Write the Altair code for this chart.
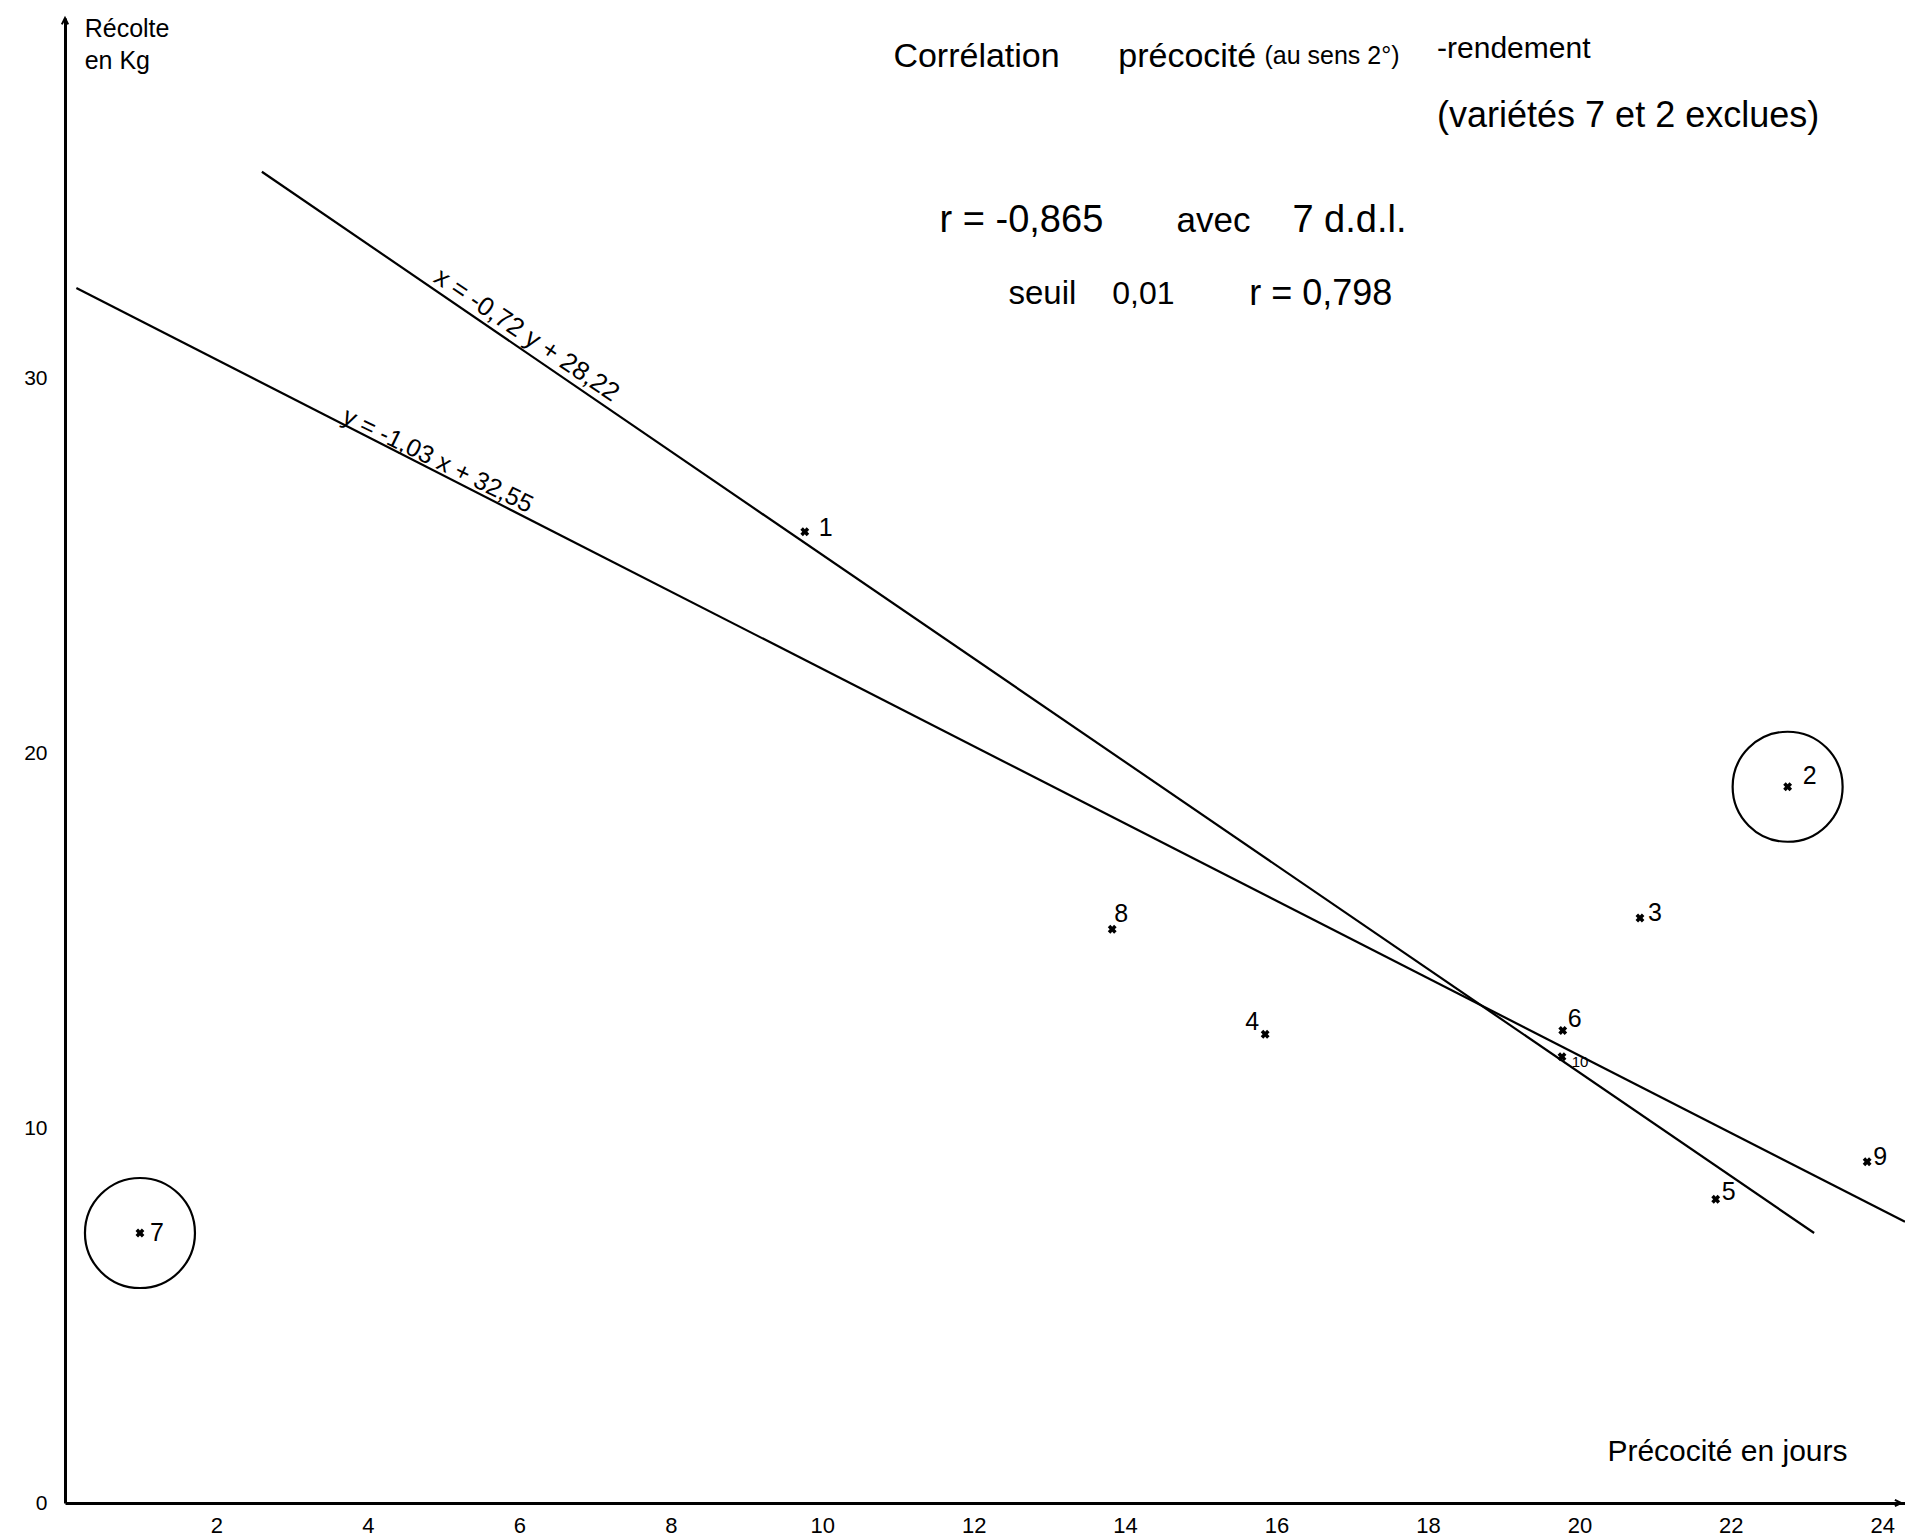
import altair as alt
import pandas as pd

FONT = "Liberation Sans"

# ---- data ----
labels = ["1", "2", "3", "4", "5", "6", "7", "8", "9", "10"]
precocite = [9.77, 22.75, 20.8, 15.85, 21.8, 19.78, 0.99, 13.83, 23.8, 19.77]
recolte = [25.9, 19.1, 15.6, 12.5, 8.1, 12.6, 7.2, 15.3, 9.1, 11.9]
excluded = ["7", "2"]

# regression lines (end points)
reg_names = ["y on x", "y on x", "x on y", "x on y"]
reg_x = [0.15, 24.3, 2.6, 23.1]
reg_y = [32.4, 7.5, 35.5, 7.2]

x_ticks = [2, 4, 6, 8, 10, 12, 14, 16, 18, 20, 22, 24]
y_ticks = [0, 10, 20, 30]
X_MAX = 24.3
Y_MAX = 39.6

ann_text = ["Récolte", "en Kg", "Corrélation", "précocité", "(au sens 2°)", "-rendement",
            "(variétés 7 et 2 exclues)", "r = -0,865", "avec", "7 d.d.l.",
            "seuil", "0,01", "r = 0,798", "Précocité en jours"]
ann_x = [0.26, 0.26, 10.94, 13.91, 15.84, 18.12, 18.12, 11.55, 14.68, 16.21,
         12.46, 13.83, 15.64, 20.37]
ann_y = [39.3, 38.45, 38.56, 38.56, 38.6, 38.77, 37.0, 34.19, 34.19, 34.19,
         32.24, 32.24, 32.24, 1.36]
ann_fs = [25, 25, 34, 34, 25, 30, 36, 38, 35, 38, 33, 32, 36, 30]

eq_text = ["x = -0,72 y + 28,22", "y = -1,03 x + 32,55"]
eq_x = [6.0, 4.86]
eq_y = [30.86, 27.54]

# ---- tables ----
pts = pd.DataFrame({"label": labels, "x": precocite, "y": recolte})
circ = pts[pts["label"].isin(excluded)]
reg = pd.DataFrame({"line": reg_names, "x": reg_x, "y": reg_y})
ann = pd.DataFrame({"t": ann_text, "x": ann_x, "y": ann_y, "fs": ann_fs})
eqs = pd.DataFrame({"t": eq_text, "x": eq_x, "y": eq_y})
arrows = pd.DataFrame({"x": [0, X_MAX - 0.05], "y": [Y_MAX, 0], "dir": ["up", "right"]})

xs = alt.Scale(domain=[0, X_MAX], nice=False, zero=False)
ys = alt.Scale(domain=[0, Y_MAX], nice=False, zero=False)

X = alt.X("x:Q", scale=xs, axis=alt.Axis(values=x_ticks, format="d", title=None, ticks=False, grid=False,
                                          domainColor="black", domainWidth=3, labelFont=FONT,
                                          labelFontSize=22, labelColor="black", labelPadding=12))
Y = alt.Y("y:Q", scale=ys, axis=alt.Axis(values=y_ticks, format="d", title=None, ticks=False, grid=False,
                                          domainColor="black", domainWidth=3, labelFont=FONT,
                                          labelFontSize=21, labelColor="black", labelPadding=18))

base_pts = alt.Chart(pts)

lines = alt.Chart(reg).mark_line(color="black", strokeWidth=2.2).encode(
    x=X, y=Y, detail="line:N")

markers = base_pts.mark_point(shape="cross", angle=45, filled=True, color="black",
                              size=80, opacity=1).encode(
    x=alt.X("x:Q", scale=xs), y=alt.Y("y:Q", scale=ys))

circles = alt.Chart(circ).mark_point(shape="circle", filled=False, color="black",
                                     strokeWidth=2.2, size=12100, opacity=1).encode(
    x=alt.X("x:Q", scale=xs), y=alt.Y("y:Q", scale=ys))

label_offsets = {"1": (21, -4), "2": (22, -11), "3": (15, -5), "4": (-13, -12), "5": (13, -7),
                 "6": (12, -12), "7": (17, 0), "8": (9, -15), "9": (13, -5), "10": (18, 5)}
label_layers = []
for lab, (dx, dy) in label_offsets.items():
    label_layers.append(
        base_pts.transform_filter(alt.datum.label == lab).mark_text(
            font=FONT, fontSize=15 if lab == "10" else 25, dx=dx, dy=dy, color="black"
        ).encode(x=alt.X("x:Q", scale=xs), y=alt.Y("y:Q", scale=ys), text="label:N"))

annot = alt.Chart(ann).mark_text(font=FONT, align="left", baseline="middle", color="black").encode(
    x=alt.X("x:Q", scale=xs), y=alt.Y("y:Q", scale=ys), text="t:N",
    size=alt.Size("fs:Q", scale=None, legend=None))

eq1 = alt.Chart(eqs).transform_filter(alt.datum.t == eq_text[0]).mark_text(
    font=FONT, fontSize=26, angle=34, align="center", baseline="bottom", dy=0, color="black").encode(
    x=alt.X("x:Q", scale=xs), y=alt.Y("y:Q", scale=ys), text="t:N")
eq2 = alt.Chart(eqs).transform_filter(alt.datum.t == eq_text[1]).mark_text(
    font=FONT, fontSize=25, angle=26, align="center", baseline="bottom", dy=2, color="black").encode(
    x=alt.X("x:Q", scale=xs), y=alt.Y("y:Q", scale=ys), text="t:N")

arrow_up = alt.Chart(arrows).transform_filter(alt.datum.dir == "up").mark_point(
    shape="M -0.5 1 L 0 0 L 0.5 1", filled=False, color="black", strokeWidth=2, size=160, opacity=1).encode(
    x=alt.X("x:Q", scale=xs), y=alt.Y("y:Q", scale=ys))
arrow_right = alt.Chart(arrows).transform_filter(alt.datum.dir == "right").mark_point(
    shape="M -1 -0.5 L 0 0 L -1 0.5", filled=False, color="black", strokeWidth=2, size=160, opacity=1).encode(
    x=alt.X("x:Q", scale=xs), y=alt.Y("y:Q", scale=ys))

chart = alt.layer(lines, circles, markers, *label_layers, annot, eq1, eq2, arrow_up, arrow_right).properties(
    width=1840, height=1485,
    autosize=alt.AutoSizeParams(type="none"),
    padding={"left": 65, "top": 18, "right": 0, "bottom": 37},
    background="white",
).configure_view(stroke=None)

chart.save("out.html", embed_options={"renderer": "svg", "actions": False})
